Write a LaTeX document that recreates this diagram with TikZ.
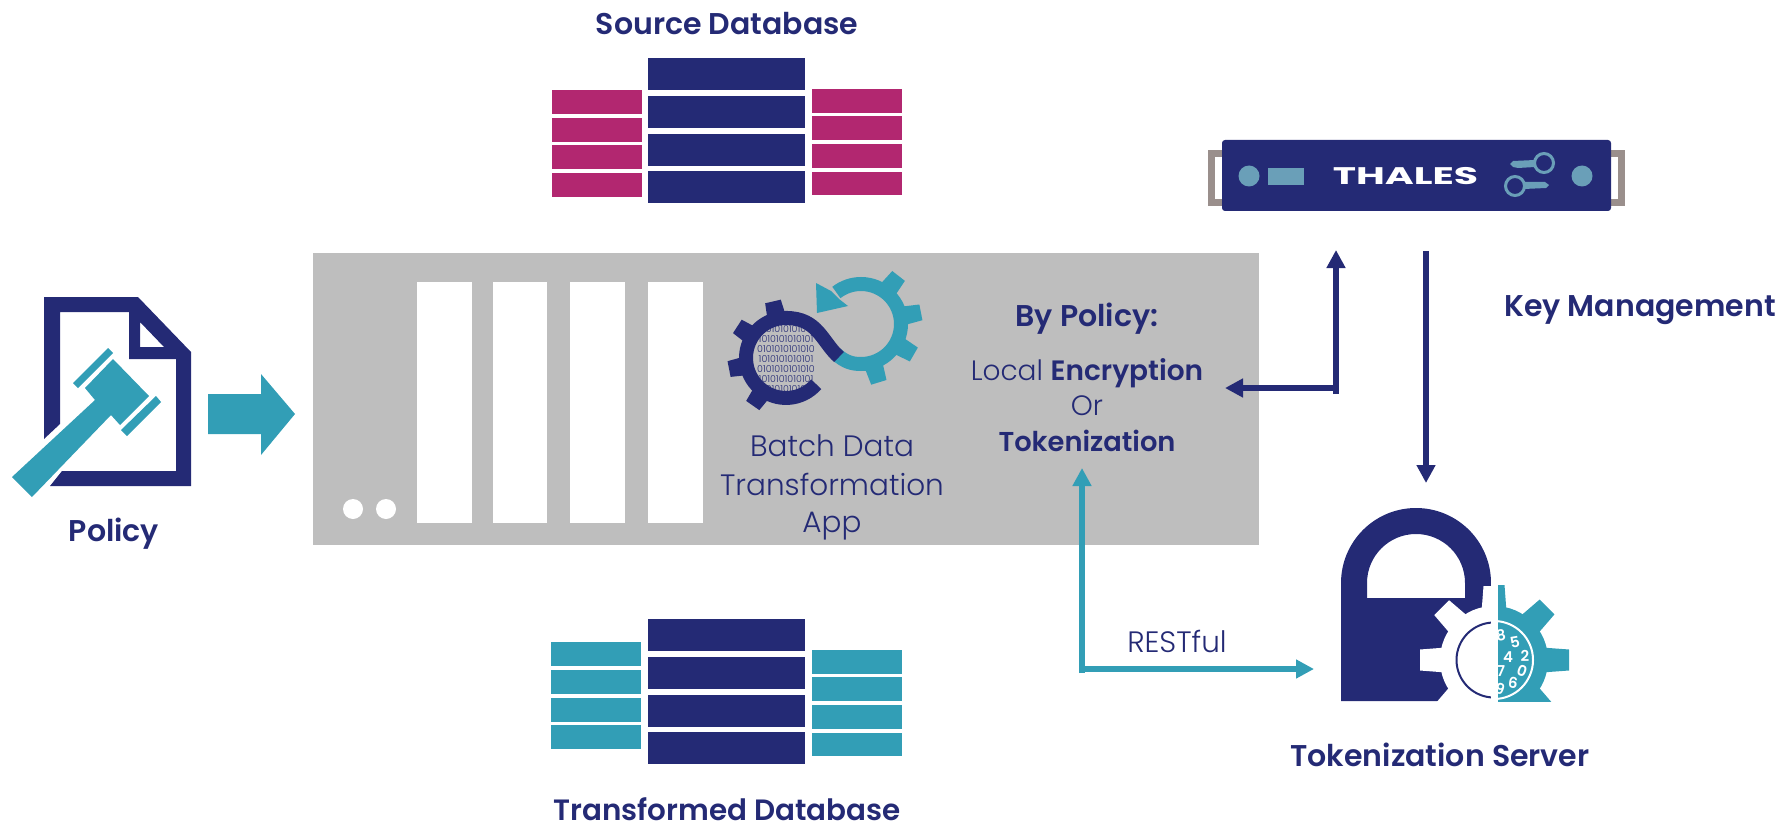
\documentclass[tikz,border=0pt]{standalone}
\usepackage{fontspec}
\setmainfont{Poppins}[UprightFont=* Light,BoldFont=* SemiBold]
\newfontfamily\thalesfont{Poppins}[UprightFont=* Bold]
\usetikzlibrary{arrows.meta}
\definecolor{navy}{HTML}{242A75}
\definecolor{teal}{HTML}{329EB6}
\definecolor{mag}{HTML}{B22770}
\definecolor{srv}{HTML}{BEBEBE}
\definecolor{hdl}{HTML}{9A8F8C}
\definecolor{keyb}{HTML}{6A9FB8}
\tikzset{
  lab/.style={anchor=base,text=navy,inner sep=0pt,font=\fontsize{30}{34}\selectfont\bfseries},
  inner lab/.style={anchor=base,text=navy,inner sep=0pt,font=\fontsize{28}{32}\selectfont},
  thin lab/.style={anchor=base,text=navy,inner sep=0pt,font=\fontsize{29.5}{32}\selectfont},
  conn/.style={line width=6pt,-{Triangle[width=18pt,length=18pt]}},
  digit/.style={text=white,inner sep=0pt,font=\fontsize{15}{15}\selectfont\bfseries},
  bin/.style={text=navy,inner sep=0pt,anchor=center,font=\fontsize{9.5}{9.5}\selectfont},
}
% gear teeth: centre x,y; rim radius; half width; colour; angle list; tip offset
\newcommand{\gearteeth}[7]{%
  \foreach \ga in {#6}{%
    \fill[#5,shift={(#1,#2)},rotate=-\ga] (#3-6,-#4-2) -- (#3+#7,-#4) -- (#3+#7,#4) -- (#3-6,#4+2) -- cycle;}}
\begin{document}
\begin{tikzpicture}[x=1pt,y=-1pt]
\useasboundingbox (0,0) rectangle (1787,826);
% Databases
\foreach \a/\b in {58/90,96/128,134/166,171/203,619/651,657/689,695/727,732/764}
  \fill[navy] (648,\a) rectangle (805,\b);
\foreach \a/\b in {90/114,118/142,145/169,173/197}
  \fill[mag] (552,\a) rectangle (642,\b);
\foreach \a/\b in {89/113,116/140,144/168,172/195}
  \fill[mag] (812,\a) rectangle (902,\b);
\foreach \a/\b in {642/666,670/694,698/722,725/749}
  \fill[teal] (551,\a) rectangle (641,\b);
\foreach \a/\b in {650/674,677/701,705/729,733/756}
  \fill[teal] (812,\a) rectangle (902,\b);
\node[lab] (srcdb) at (727,35) {Source Database};
\node[lab,font=\fontsize{29.4}{34}\selectfont\bfseries] (trdb) at (727,820) {Transformed Database};
% Server
\fill[srv] (313,253) rectangle (1259,545);
\foreach \a/\b in {417/472,493/547,570/625,648/703}
  \fill[white] (\a,282) rectangle (\b,523);
\fill[white] (353,509) circle[radius=10] (386,509) circle[radius=10];
% Policy icon
\fill[navy,even odd rule] (44,297) -- (138,297) -- (191,352) -- (191,486) -- (50,486) -- (62,471) -- (176,471) -- (176,359) -- (129,359) -- (129,312) -- (60,312) -- (60,424) -- (44,439) -- cycle
  (140,322) -- (164,347) -- (140,347) -- cycle;
\fill[teal] (12,477) -- (95,400) -- (85,388) -- (113,359) -- (149,396) -- (120,425) -- (111,415) -- (32,497) -- cycle;
\fill[teal] (108,348) -- (113,353) -- (78,388) -- (73,383) -- cycle;
\fill[teal] (156,396) -- (161,402) -- (127,436) -- (121,430) -- cycle;
\node[lab] (policy) at (114,541) {Policy};
\fill[teal] (208,394) -- (261,394) -- (261,374) -- (295,414) -- (261,455) -- (261,434) -- (208,434) -- cycle;
% Binary text inside dark gear
\begin{scope}
\clip (786,358) circle[radius=34];
\foreach \y/\t in {329/0101010101010,339/1010101010101,349/0101010101010,359/1010101010101,369/0101010101010,379/1010101010101,389/0101010101010}
  \node[bin] at (786,\y) {\t};
\end{scope}
% Teal gear
\gearteeth{861}{324}{40}{8}{teal}{-52,-11,30,73}{21}
\draw[teal,line width=14pt] (836,354) .. controls (845,362) and (852,364) .. (861,364) arc[start angle=90,end angle=-128,radius=40];
\fill[teal] (816,283) -- (817,313) -- (848,306) -- (839,299) -- (831,291) -- cycle;
% Dark gear
\gearteeth{786}{358}{40}{8}{navy}{257,213,169,125}{18}
\draw[navy,line width=14pt] (816.2,384.2) arc[start angle=41,end angle=270,radius=40] .. controls (818,318) and (822,342) .. (839,357);
\node[thin lab] (batch1) at (832,456) {Batch Data};
\node[thin lab] (batch2) at (832,495) {Transformation};
\node[thin lab] (batch3) at (832,532) {App};
% By policy
\node[lab] (bypol) at (1087,326) {By Policy:};
\node[inner lab] (local) at (1087,380) {Local \textbf{Encryption}};
\node[inner lab] (orr) at (1087,415) {Or};
\node[inner lab,font=\fontsize{27.3}{32}\selectfont\bfseries] (tok) at (1087,451) {Tokenization};
% Thales
\draw[hdl,line width=7pt] (1225,153.5) -- (1211.5,153.5) -- (1211.5,202.5) -- (1225,202.5);
\draw[hdl,line width=7pt] (1608,153.5) -- (1621.5,153.5) -- (1621.5,202.5) -- (1608,202.5);
\fill[navy,rounded corners=3pt] (1222,140) rectangle (1611,211);
\fill[keyb] (1249,176) circle[radius=10.5] (1582,176) circle[radius=10.5];
\fill[keyb] (1268,168) rectangle (1304,185);
\node[inner sep=0pt,text=white,font=\fontsize{24}{24}\thalesfont,xscale=1.64] (thales) at (1405.5,176.5) {THALES};
\draw[keyb,line width=3pt] (1544,163) circle[radius=9.5];
\draw[keyb,line width=3pt] (1515,186) circle[radius=9.5];
\fill[keyb] (1510,164) -- (1513,161) -- (1535,160) -- (1535,167) -- (1518,168) -- (1513,167) -- cycle;
\fill[keyb] (1524,182) -- (1545,182) -- (1549,185) -- (1546,188) -- (1524,189) -- cycle;
% Lock
\fill[navy,even odd rule] (1341,701) -- (1341,583) arc[start angle=180,end angle=360,radius=75] -- (1491,701) -- cycle
  (1367,598) -- (1367,583) arc[start angle=180,end angle=360,radius=49] -- (1465,598) -- cycle;
\begin{scope}
\clip (1300,500) rectangle (1498,701);
\fill[white] (1494,660) circle[radius=54];
\gearteeth{1494}{660}{54}{10.5}{white}{90,135,180,225,270,315,0,45}{20}
\draw[navy,line width=2pt] (1494,660) circle[radius=37.5];
\fill[white] (1491,550) rectangle (1498,701);
\end{scope}
\begin{scope}
\clip (1498,500) rectangle (1600,701);
\fill[teal] (1494,660) circle[radius=54];
\gearteeth{1494}{660}{54}{10.5}{teal}{90,135,180,225,270,315,0,45}{21}
\draw[white,line width=2pt,fill=teal] (1494,660) circle[radius=39];
\foreach \x/\y/\t/\r in {1501/635/8/10,1515/642/5/10,1525/656/2/0,1508/657/4/0,1522/671/0/-20,1501/671/7/0,1513/683/6/-10,1500/689/9/-20}
  \node[digit,rotate=\r] at (\x,\y) {\t};
\end{scope}
\node[lab] (keym) at (1640,316) {Key Management};
\node[lab] (tokserver) at (1440,766) {Tokenization Server};
\node[thin lab] (rest) at (1177,652) {RESTful};
% Connectors
\coordinate (kmUpFrom) at (1336,394);
\coordinate (kmUpTo) at (1336,250);
\coordinate (kmLeftFrom) at (1339,388);
\coordinate (kmLeftTo) at (1225,388);
\coordinate (kmDownFrom) at (1426,251);
\coordinate (kmDownTo) at (1426,483);
\coordinate (rsUpFrom) at (1082,673);
\coordinate (rsUpTo) at (1082,468);
\coordinate (rsRightFrom) at (1079,669);
\coordinate (rsRightTo) at (1314,669);
\draw[conn,navy] (kmUpFrom) -- (kmUpTo);
\draw[conn,navy] (kmLeftFrom) -- (kmLeftTo);
\draw[conn,navy] (kmDownFrom) -- (kmDownTo);
\draw[conn,teal] (rsUpFrom) -- (rsUpTo);
\draw[conn,teal] (rsRightFrom) -- (rsRightTo);
\end{tikzpicture}
\end{document}
